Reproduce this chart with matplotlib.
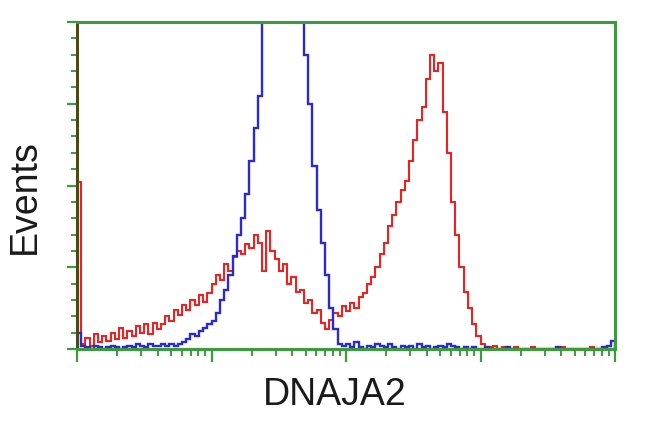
import numpy as np
import matplotlib
matplotlib.use("Agg")
import matplotlib.pyplot as plt

# Histogram counts, 128 bins over 1024 channels (4 log decades)
red_counts = [
    102, 3, 7, 2, 9, 4, 8, 5, 10, 6,
    13, 7, 11, 8, 14, 10, 15, 9, 16, 12,
    15, 20, 17, 24, 21, 27, 24, 30, 27, 33,
    29, 34, 40, 45, 42, 52, 48, 56, 60, 58,
    64, 62, 70, 65, 48, 72, 60, 55, 48, 52,
    40, 44, 35, 36, 28, 30, 22, 24, 16, 12,
    18, 22, 20, 26, 23, 28, 25, 32, 34, 40,
    44, 50, 58, 65, 75, 82, 90, 97, 103, 115,
    128, 140, 148, 165, 180, 170, 175, 145, 120, 90,
    70, 50, 35, 25, 15, 8, 3, 1, 1, 2,
    0, 1, 0, 0, 1, 0, 0, 0, 1, 0,
    0, 0, 0, 0, 0, 1, 0, 0, 0, 0,
    0, 0, 1, 0, 0, 0, 0, 0,
]
blue_counts = [
    10, 2, 1, 0, 2, 1, 0, 1, 2, 1,
    0, 1, 2, 1, 3, 2, 1, 3, 2, 2,
    3, 2, 3, 2, 3, 4, 6, 9, 8, 11,
    13, 15, 17, 22, 30, 36, 45, 57, 70, 80,
    95, 115, 135, 155, 200, 235, 262, 280, 290, 285,
    270, 250, 228, 205, 180, 150, 112, 85, 65, 45,
    25, 12, 3, 2, 3, 1, 4, 1, 0, 2,
    1, 3, 2, 1, 3, 1, 0, 2, 1, 2,
    0, 3, 1, 2, 0, 1, 2, 1, 3, 2,
    1, 0, 1, 0, 1, 0, 0, 1, 0, 0,
    0, 0, 1, 0, 0, 0, 0, 0, 0, 0,
    0, 0, 0, 0, 1, 0, 0, 0, 0, 0,
    0, 0, 0, 0, 0, 1, 2, 5,
]
x_label = "DNAJA2"
y_label = "Events"

n_channels = 1024
decades = 4
edges = np.linspace(0, n_channels, len(red_counts) + 1)

green = "#3d9b3d"
fig = plt.figure(figsize=(6.5, 4.32), dpi=100)
ax = fig.add_axes([77 / 650, 1 - 349 / 432, 538 / 650, 327 / 432])

ax.stairs(red_counts, edges, baseline=0, color="#f02020", lw=1.5)
ax.stairs(blue_counts, edges, baseline=0, color="#2a2ad0", lw=1.7)

ax.set_xlim(0, n_channels)
ax.set_ylim(0, 200)

per_dec = n_channels / decades
major_x = [d * per_dec for d in range(decades + 1)]
minor_x = [d * per_dec + per_dec * np.log10(k) for d in range(decades) for k in range(2, 10)]
ax.set_xticks(major_x)
ax.set_xticks(minor_x, minor=True)
ax.set_yticks(np.arange(0, 201, 50))
ax.set_yticks(np.arange(0, 201, 10), minor=True)
ax.set_xticklabels([])
ax.set_yticklabels([])

ax.tick_params(axis="x", which="major", length=9, width=1.6, color=green, direction="out")
ax.tick_params(axis="x", which="minor", length=5, width=1.4, color=green, direction="out")
ax.tick_params(axis="y", which="major", length=7, width=1.6, color=green, direction="out")
ax.tick_params(axis="y", which="minor", length=4, width=1.4, color=green, direction="out")

for side in ["top", "right", "bottom"]:
    ax.spines[side].set_color(green)
    ax.spines[side].set_linewidth(2.2)
ax.spines["left"].set_color("#4a4a18")
ax.spines["left"].set_linewidth(2.2)

font = ["Liberation Sans", "DejaVu Sans"]
ax.set_xlabel(x_label, fontsize=27, family=font, color="#1a1a1a")
ax.xaxis.set_label_coords((335 - 77) / 538, (349 - 395) / 327)
ax.xaxis.label.set_va("center")
ax.set_ylabel(y_label, fontsize=27, family=font, color="#1a1a1a")
ax.yaxis.set_label_coords((25 - 77) / 538, (349 - 197) / 327)
ax.yaxis.label.set_va("center")

fig.savefig("out.png", dpi=100)
